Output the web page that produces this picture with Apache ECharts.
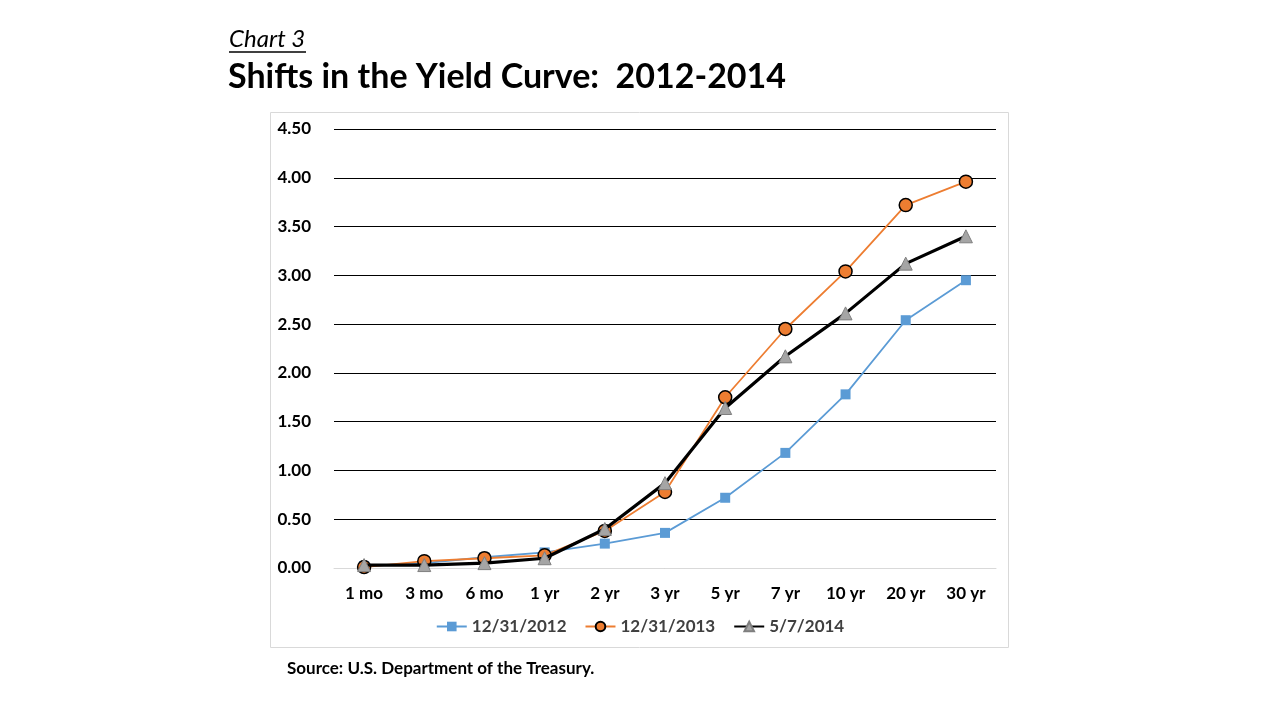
<!DOCTYPE html>
<html><head><meta charset="utf-8">
<script src="https://cdn.jsdelivr.net/npm/echarts@6/dist/echarts.min.js"></script>
<style>html,body{margin:0;padding:0;background:#fff}#c{width:1280px;height:720px}</style>
</head><body><div id="c"></div>
<script>
const categories = ['1 mo','3 mo','6 mo','1 yr','2 yr','3 yr','5 yr','7 yr','10 yr','20 yr','30 yr'];
const y2012 = [0.02,0.05,0.11,0.16,0.25,0.36,0.72,1.18,1.78,2.54,2.95];
const y2013 = [0.01,0.07,0.10,0.13,0.38,0.78,1.75,2.45,3.04,3.72,3.96];
const y2014 = [0.03,0.03,0.05,0.10,0.40,0.87,1.64,2.17,2.61,3.12,3.40];
const seriesNames = ['12/31/2012','12/31/2013','5/7/2014'];
const yTicks = {min:0,max:4.5,interval:0.5};

const font = 'Lato, "Open Sans", sans-serif';
const chart = echarts.init(document.getElementById('c'));
chart.setOption({
  animation:false,
  graphic:[
    {type:'rect',shape:{x:270.5,y:112.5,width:738,height:535},style:{fill:'none',stroke:'#d9d9d9',lineWidth:1},z:-1},
    {type:'text',left:229,top:27,style:{text:'Chart 3',font:'italic 24px '+font,fill:'#000'}},
    {type:'line',shape:{x1:229,y1:52,x2:306,y2:52},style:{stroke:'#000',lineWidth:1.5}},
    {type:'text',left:228,top:60,style:{text:'Shifts in the Yield Curve:  2012-2014',font:'bold 34px '+font,fill:'#000'}},
    {type:'text',left:287,top:660,style:{text:'Source: U.S. Department of the Treasury.',font:'bold 17px '+font,fill:'#000'}}
  ],
  grid:{left:334,right:284,top:129,bottom:152},
  legend:{
    data:seriesNames,bottom:80,left:'center',itemWidth:30,itemHeight:12,itemGap:18,
    textStyle:{fontFamily:font,fontSize:17,fontWeight:'bold',color:'#404040'}
  },
  xAxis:{
    type:'category',data:categories,boundaryGap:true,
    axisLine:{lineStyle:{color:'#d9d9d9'}},axisTick:{show:false},
    axisLabel:{fontFamily:font,fontSize:17,fontWeight:'bold',color:'#000',margin:17}
  },
  yAxis:{
    type:'value',min:yTicks.min,max:yTicks.max,interval:yTicks.interval,
    axisLine:{show:false},axisTick:{show:false},
    axisLabel:{fontFamily:font,fontSize:17,fontWeight:'bold',color:'#000',margin:23,formatter:v=>v.toFixed(2)},
    splitLine:{lineStyle:{color:'#000',width:1}}
  },
  series:[
    {name:seriesNames[0],type:'line',data:y2012,symbol:'rect',symbolSize:10,
     lineStyle:{color:'#5b9bd5',width:1.8},itemStyle:{color:'#5b9bd5'},z:2},
    {name:seriesNames[1],type:'line',data:y2013,symbol:'circle',symbolSize:13,
     lineStyle:{color:'#ed7d31',width:1.8},itemStyle:{color:'#ed7d31',borderColor:'#000',borderWidth:1.5},z:3},
    {name:seriesNames[2],type:'line',data:y2014,symbol:'triangle',symbolSize:13,
     lineStyle:{color:'#000',width:3.2},itemStyle:{color:'#a5a5a5',borderColor:'#7f7f7f',borderWidth:1},z:4}
  ]
});
</script></body></html>
